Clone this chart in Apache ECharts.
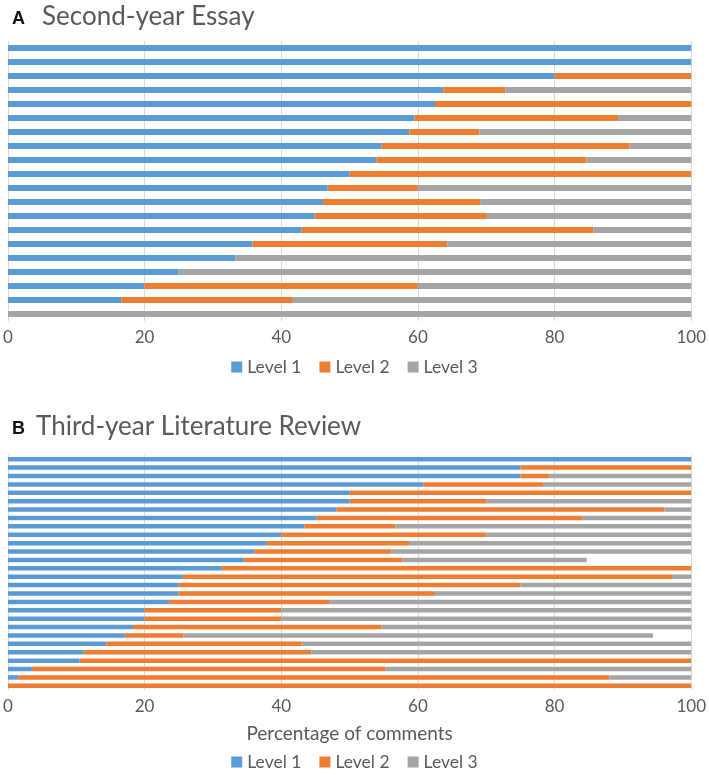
<!DOCTYPE html>
<html>
<head>
<meta charset="utf-8">
<script src="https://cdn.jsdelivr.net/npm/echarts@6/dist/echarts.min.js"></script>
<style>html,body{margin:0;padding:0;background:#fff}#c{width:709px;height:776px}</style>
</head>
<body>
<div id="c"></div>
<script>
// Panel A: Second-year Essay (top to bottom)
const essayCats = Array.from({length: 20}, (_, i) => 'A' + (i + 1));
const essayL1 = [100, 100, 80, 63.7, 62.5, 59.5, 58.8, 54.7, 53.9, 50, 46.8, 46.1, 44.9, 43.0, 35.8, 33.3, 24.9, 20, 16.6, 0];
const essayL2 = [0, 0, 20, 9.1, 37.5, 29.8, 10.2, 36.3, 30.8, 50, 13.2, 23.1, 25.2, 42.7, 28.5, 0, 0, 40, 25.1, 0];
const essayL3 = [0, 0, 0, 27.2, 0, 10.7, 31.0, 9.0, 15.3, 0, 40.0, 30.8, 29.9, 14.3, 35.7, 66.7, 75.1, 40, 58.3, 100];

// Panel B: Third-year Literature Review (top to bottom)
const reviewCats = Array.from({length: 28}, (_, i) => 'B' + (i + 1));
const reviewL1 = [100, 75, 75, 60.8, 50, 50, 48.1, 45.2, 43.4, 40, 37.9, 36.1, 34.6, 31.3, 25.6, 25, 25, 23.6, 20, 20, 18.3, 17.1, 14.4, 11.1, 10.5, 3.5, 1.5, 0];
const reviewL2 = [0, 25, 4.2, 17.5, 50, 20, 48, 38.8, 13.3, 30, 20.8, 20, 23.1, 68.7, 71.7, 50, 37.5, 23.4, 20, 20, 36.4, 8.6, 28.6, 33.3, 89.5, 51.7, 86.5, 100];
const reviewL3 = [0, 0, 20.8, 21.7, 0, 30, 3.9, 16, 43.3, 30, 41.3, 43.9, 27.0, 0, 2.7, 25, 37.5, 53, 60, 60, 45.3, 68.7, 57, 55.6, 0, 44.8, 12, 0];

const xTicks = [0, 20, 40, 60, 80, 100];
const levelNames = ['Level 1', 'Level 2', 'Level 3'];
const colors = ['#5B9BD5', '#ED7D31', '#A5A5A5'];

const FONT = 'Lato';
const chart = echarts.init(document.getElementById('c'), null, {renderer: 'canvas'});

function xAxis(gridIndex, withName) {
  const ax = {
    type: 'value', gridIndex, min: xTicks[0], max: xTicks[xTicks.length - 1], interval: 20,
    axisLine: {show: false}, axisTick: {show: false},
    splitLine: {show: true, lineStyle: {color: '#D9D9D9', width: 1}},
    axisLabel: {color: '#595959', fontSize: 17, fontFamily: FONT, margin: 8}
  };
  if (withName) {
    ax.name = 'Percentage of comments';
    ax.nameLocation = 'middle';
    ax.nameGap = 34;
    ax.nameTextStyle = {color: '#595959', fontSize: 19, fontFamily: FONT};
  }
  return ax;
}
function yAxis(gridIndex, cats) {
  return {type: 'category', gridIndex, data: cats, inverse: true, show: false};
}
function series(gridIndex, stack, arrs, barWidth) {
  return arrs.map((d, i) => ({
    type: 'bar', name: levelNames[i], xAxisIndex: gridIndex, yAxisIndex: gridIndex,
    stack, data: d, barWidth, itemStyle: {color: colors[i]}, silent: true, animation: false
  }));
}
const letterStyle = {fontSize: 18, fontWeight: 'bold', color: '#111', fontFamily: 'Liberation Sans'};
const titleStyle = {fontSize: 26, fontWeight: 'normal', color: '#595959', fontFamily: FONT};
const legendBase = {data: levelNames, left: 'center', itemWidth: 11, itemHeight: 11, itemGap: 18, icon: 'rect',
  textStyle: {color: '#595959', fontSize: 17.5, fontFamily: FONT}};

chart.setOption({
  animation: false,
  color: colors,
  title: [
    {text: 'A', left: 7, top: 5, textStyle: letterStyle},
    {text: 'Second-year Essay', left: 37, top: -1, textStyle: titleStyle},
    {text: 'B', left: 7, top: 415, textStyle: letterStyle},
    {text: 'Third-year Literature Review', left: 31, top: 409, textStyle: titleStyle}
  ],
  legend: [
    Object.assign({top: 353}, legendBase),
    Object.assign({top: 748}, legendBase)
  ],
  grid: [
    {left: 4, width: 691, top: 41, height: 280},
    {left: 4, width: 691, top: 455, height: 235}
  ],
  xAxis: [xAxis(0, false), xAxis(1, true)],
  yAxis: [yAxis(0, essayCats), yAxis(1, reviewCats)],
  series: [
    ...series(0, 'essay', [essayL1, essayL2, essayL3], 6),
    ...series(1, 'review', [reviewL1, reviewL2, reviewL3], 4.5)
  ]
});
</script>
</body>
</html>
